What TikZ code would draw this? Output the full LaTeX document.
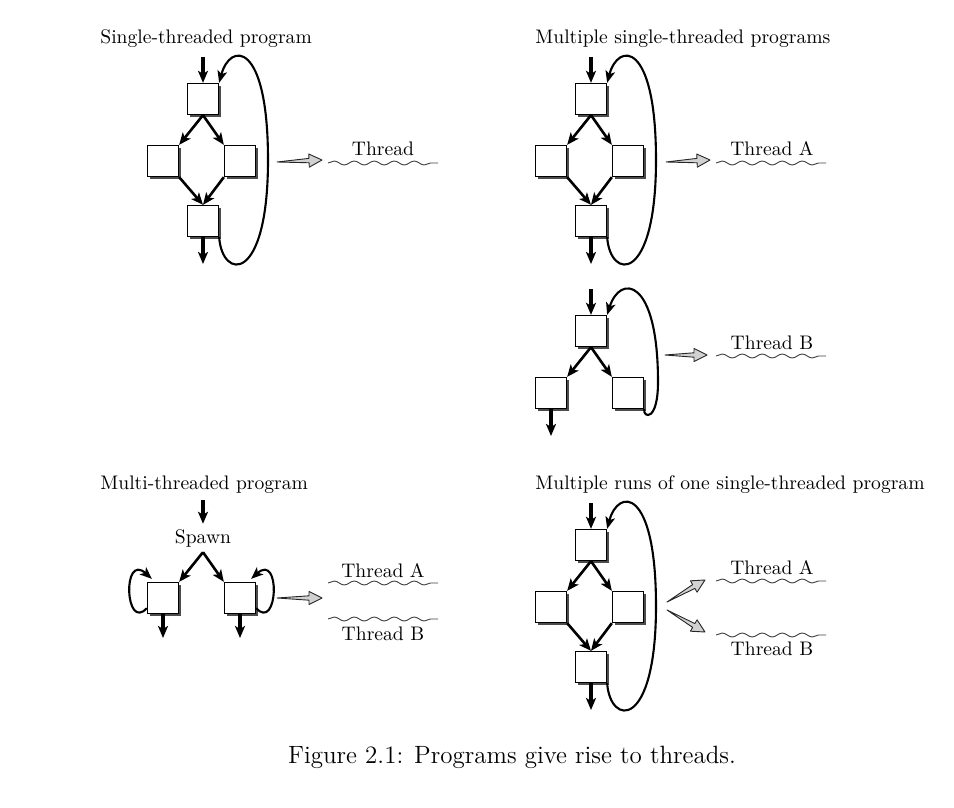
\documentclass[tikz,border=0pt]{standalone}
\usetikzlibrary{arrows.meta,calc,decorations.pathmorphing}
\tikzset{
 blk/.style={draw, line width=0.65pt, fill=white, minimum size=15.5pt, inner sep=0pt,
   preaction={fill=black!70, transform canvas={xshift=1.1pt,yshift=-1.1pt}}},
 flow/.style={line width=1.3pt, -{Stealth[length=6pt,width=5pt,inset=1.5pt]}},
 io/.style={line width=1.6pt, -{Stealth[length=6pt,width=5pt,inset=1.5pt]}},
 back/.style={line width=1.05pt, -{Stealth[length=6pt,width=4.8pt,inset=1.5pt]}},
 wave/.style={line width=0.45pt, black!75, decorate, decoration={snake, segment length=10pt, amplitude=1pt}},
 lbl/.style={font=\fontsize{9.8}{12}\selectfont, inner sep=0pt},
 ttl/.style={font=\fontsize{9.8}{12}\selectfont, inner sep=0pt, anchor=west},
 fat/.style={draw=black!85, line width=0.45pt, fill=black!18, line join=round},
}
\newcommand\fatarrow[2]{%
 \path ($(#2)!6.5pt!(#1)$) coordinate (fah);
 \filldraw[fat] (#1) -- ($(fah)!1.1pt!90:(#2)$) -- ($(fah)!3.3pt!90:(#2)$) -- (#2)
   -- ($(fah)!3.3pt!-90:(#2)$) -- ($(fah)!1.1pt!-90:(#2)$) -- cycle;}
\newcommand\diampanel[1]{%
 \node[blk] (#1t) at (203,99) {};
 \node[blk] (#1l) at (163,161) {};
 \node[blk] (#1r) at (240,161) {};
 \node[blk] (#1b) at (203,221) {};
 \coordinate (#1in) at (203,57);
 \coordinate (#1out) at (203,264);
 \draw[io] (#1in) -- (#1t);
 \draw[flow] (#1t.south) -- (#1l.north east);
 \draw[flow] (#1t.south) -- (#1r.north west);
 \draw[flow] (#1l.south east) -- (#1b.north);
 \draw[flow] (#1r.south west) -- (#1b.north);
 \draw[io] (#1b) -- (#1out);
 \draw[back] (#1b.south east) .. controls (222,280) and (268,285) .. (268,160)
   .. controls (268,40) and (230,42) .. (#1t.north east);
}
\begin{document}
\begin{tikzpicture}[x=0.5pt,y=-0.5pt]
\useasboundingbox (0,0) rectangle (954,808);
% titles
\node[ttl] (T1) at (100,39) {Single-threaded program};
\node[ttl] (T2) at (535,39) {Multiple single-threaded programs};
\node[ttl] (T3) at (100,485) {Multi-threaded program};
\node[ttl] (T4) at (535,485) {Multiple runs of one single-threaded program};

% panel 1
\diampanel{a}
\coordinate (af0) at (277,162); \coordinate (af1) at (322,160);
\fatarrow{af0}{af1}
\node[lbl] (aT) at (383,149) {Thread};
\coordinate (aw0) at (328,163); \coordinate (aw1) at (438,163);
\draw[wave] (aw0) -- (aw1);

% panel 2
\begin{scope}[shift={(388,0)}]
\diampanel{b}
\end{scope}
\coordinate (bf0) at (666,162); \coordinate (bf1) at (710,160);
\fatarrow{bf0}{bf1}
\node[lbl] (bT) at (772,149) {Thread A};
\coordinate (bw0) at (716,163); \coordinate (bw1) at (826,163);
\draw[wave] (bw0) -- (bw1);

% panel 3
\begin{scope}[shift={(388,232)}]
\node[blk] (ct) at (203,99) {};
\node[blk] (cl) at (163,161) {};
\node[blk] (cr) at (240,161) {};
\coordinate (cin) at (203,57);
\coordinate (cout) at (163,204);
\draw[io] (cin) -- (ct);
\draw[flow] (ct.south) -- (cl.north east);
\draw[flow] (ct.south) -- (cr.north west);
\draw[io] (cl) -- (cout);
\draw[back] (cr.south east) .. controls (255,186) and (270,190) .. (270,150)
   .. controls (270,45) and (232,42) .. (ct.north east);
\end{scope}
\coordinate (cf0) at (665,355); \coordinate (cf1) at (707,355);
\fatarrow{cf0}{cf1}
\node[lbl] (cT) at (772,343) {Thread B};
\coordinate (cw0) at (716,356); \coordinate (cw1) at (826,356);
\draw[wave] (cw0) -- (cw1);

% panel 4
\coordinate (din) at (203,500);
\node[lbl, inner sep=2.5pt] (dsp) at (203,538) {Spawn};
\draw[io] (din) -- (dsp);
\node[blk] (dl) at (163,598) {};
\node[blk] (dr) at (240,598) {};
\draw[flow] (dsp.south) -- (dl.north east);
\draw[flow] (dsp.south) -- (dr.north west);
\coordinate (dlout) at (163,638);
\coordinate (drout) at (240,638);
\draw[io] (dl) -- (dlout);
\draw[io] (dr) -- (drout);
\draw[back] ($(dl.south west)+(0,-6)$) .. controls (125,632) and (122,552) .. ($(dl.north west)+(5,-3)$);
\draw[back] ($(dr.south east)+(0,-6)$) .. controls (278,632) and (281,552) .. ($(dr.north east)+(-5,-3)$);
\coordinate (df0) at (277,598); \coordinate (df1) at (322,598);
\fatarrow{df0}{df1}
\node[lbl] (dTA) at (383,571) {Thread A};
\node[lbl] (dTB) at (383,634) {Thread B};
\coordinate (dwa0) at (328,583); \coordinate (dwa1) at (438,583);
\coordinate (dwb0) at (328,619); \coordinate (dwb1) at (438,619);
\draw[wave] (dwa0) -- (dwa1);
\draw[wave] (dwb0) -- (dwb1);

% panel 5
\begin{scope}[shift={(388,446)}]
\diampanel{e}
\end{scope}
\coordinate (ef0) at (667,602); \coordinate (ef1) at (705,580);
\coordinate (eg0) at (667,610); \coordinate (eg1) at (705,632);
\fatarrow{ef0}{ef1}
\fatarrow{eg0}{eg1}
\node[lbl] (eTA) at (772,568) {Thread A};
\node[lbl] (eTB) at (772,649) {Thread B};
\coordinate (ewa0) at (716,581); \coordinate (ewa1) at (826,581);
\coordinate (ewb0) at (716,635); \coordinate (ewb1) at (826,635);
\draw[wave] (ewa0) -- (ewa1);
\draw[wave] (ewb0) -- (ewb1);

% caption
\node[font=\fontsize{12.5}{15}\selectfont, inner sep=0pt] (cap) at (512,757) {Figure 2.1: Programs give rise to threads.};
\end{tikzpicture}
\end{document}
